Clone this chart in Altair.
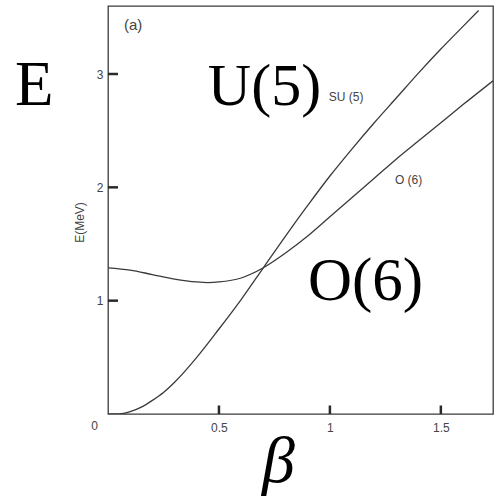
import altair as alt
import pandas as pd

# Energy of the lowest states vs. deformation beta
beta_su5 = [0.0, 0.05, 0.1, 0.15, 0.2, 0.25, 0.3, 0.4, 0.5, 0.6, 0.7, 0.8,
            0.9, 1.0, 1.1, 1.2, 1.3, 1.4, 1.5, 1.6, 1.67]
e_su5 = [0.0, 0.0, 0.02, 0.06, 0.12, 0.19, 0.28, 0.50, 0.75, 1.01, 1.29, 1.57,
         1.84, 2.10, 2.34, 2.57, 2.79, 3.01, 3.22, 3.42, 3.56]

beta_o6 = [0.0, 0.1, 0.2, 0.3, 0.4, 0.45, 0.5, 0.6, 0.7, 0.8, 0.9, 1.0,
           1.1, 1.2, 1.3, 1.4, 1.5, 1.6, 1.735]
e_o6 = [1.29, 1.27, 1.23, 1.19, 1.165, 1.16, 1.165, 1.20, 1.29, 1.42, 1.57, 1.74,
        1.91, 2.08, 2.25, 2.41, 2.57, 2.73, 2.94]

x_ticks = [0.5, 1, 1.5]
y_ticks = [1, 2, 3]

# Small labels: curve names, panel tag and the shared origin "0"
small_text = ["SU (5)", "O (6)", "(a)", "0"]
small_x = [0.995, 1.293, 0.072, -0.075]
small_y = [2.797, 2.065, 3.43, -0.11]
small_size = [12, 12, 15, 12]

# Large upright serif labels
big_text = ["E", "U(5)", "O(6)"]
big_x = [-0.419, 0.450, 0.901]
big_y = [2.726, 2.726, 1.006]
big_size = [63, 60, 61]

# Italic axis symbol below the plot
sym_text = ["β"]
sym_x = [0.694]
sym_y = [-0.60]

curves = pd.concat([
    pd.DataFrame({"beta": beta_su5, "E": e_su5, "curve": "SU(5)"}),
    pd.DataFrame({"beta": beta_o6, "E": e_o6, "curve": "O(6)"}),
])
small_df = pd.DataFrame({"t": small_text, "x": small_x, "y": small_y, "s": small_size})
big_df = pd.DataFrame({"t": big_text, "x": big_x, "y": big_y, "s": big_size})
sym_df = pd.DataFrame({"t": sym_text, "x": sym_x, "y": sym_y})

XD = [0, 1.735]
YD = [0, 3.6]
xs = alt.Scale(domain=XD, nice=False, zero=False)
ys = alt.Scale(domain=YD, nice=False, zero=False)

lines = alt.Chart(curves).mark_line(color="#3a3a3a", strokeWidth=1.3, clip=True,
                                    interpolate="monotone").encode(
    x=alt.X("beta:Q", scale=xs, title=None,
            axis=alt.Axis(values=x_ticks, domain=False, ticks=False, grid=False,
                          format="~g", labelFlush=False, labelPadding=8,
                          labelFontSize=12, labelColor="#444",
                          labelFont="Liberation Sans")),
    y=alt.Y("E:Q", scale=ys, title="E(MeV)",
            axis=alt.Axis(values=y_ticks, domain=False, ticks=False, grid=False,
                          format="~g", labelPadding=5, labelFontSize=12,
                          labelColor="#444", labelFont="Liberation Sans",
                          titleFont="Liberation Sans", titleFontSize=12,
                          titleFontWeight="normal", titleColor="#444",
                          titleX=-22, titleY=216)),
    detail="curve:N",
)

# Inward tick marks on the left and bottom edges, each a two-point segment
tick_rows = []
for v in y_ticks:
    tick_rows += [{"tid": f"y{v}", "tx": 0.0, "ty": v}, {"tid": f"y{v}", "tx": 0.045, "ty": v}]
for v in x_ticks:
    tick_rows += [{"tid": f"x{v}", "tx": v, "ty": 0.0}, {"tid": f"x{v}", "tx": v, "ty": 0.075}]
tick_df = pd.DataFrame(tick_rows)

ticks = alt.Chart(tick_df).mark_line(color="#2a2a2a", strokeWidth=2.5).encode(
    x=alt.X("tx:Q", scale=xs), y=alt.Y("ty:Q", scale=ys), detail="tid:N")

small = alt.Chart(small_df).mark_text(align="left", baseline="middle",
                                      font="Liberation Sans", color="#444").encode(
    x=alt.X("x:Q", scale=xs), y=alt.Y("y:Q", scale=ys), text="t:N",
    size=alt.Size("s:Q", scale=None, legend=None))

big = alt.Chart(big_df).mark_text(align="left", baseline="alphabetic",
                                  font="Liberation Serif", color="#000").encode(
    x=alt.X("x:Q", scale=xs), y=alt.Y("y:Q", scale=ys), text="t:N",
    size=alt.Size("s:Q", scale=None, legend=None))

sym = alt.Chart(sym_df).mark_text(align="left", baseline="alphabetic",
                                  font="Liberation Serif", fontStyle="italic",
                                  fontSize=66, color="#000").encode(
    x=alt.X("x:Q", scale=xs), y=alt.Y("y:Q", scale=ys), text="t:N")

chart = alt.layer(lines, ticks, small, big, sym).properties(
    width=385, height=408,
    autosize=alt.AutoSizeParams(type="none"),
    padding={"left": 108, "top": 6, "right": 2, "bottom": 85},
    background="white",
).configure_view(stroke="#3a3a3a", strokeWidth=1.3)

chart.save("out.html", embed_options={"renderer": "svg", "actions": False})
